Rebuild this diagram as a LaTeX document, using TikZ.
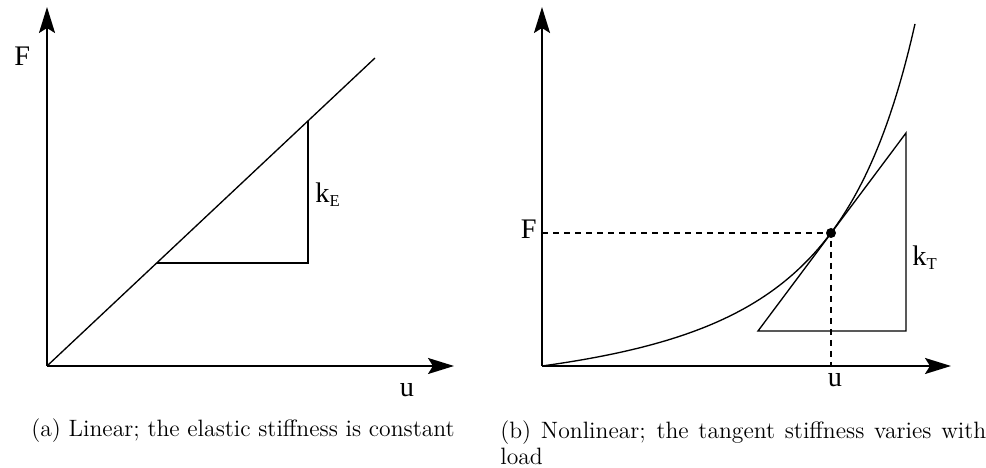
\documentclass[tikz,border=0pt]{standalone}
\usepackage{fontspec}
\usepackage{tikz}
\usetikzlibrary{arrows.meta}
\newfontfamily\labelfont{Liberation Serif}

\begin{document}
\begin{tikzpicture}[x=0.6pt,y=-0.6pt,
  axis/.style={line width=1.2pt,-{Stealth[length=15.6pt,width=9.6pt,inset=3pt]}},
  curve/.style={line width=0.8pt},
  guide/.style={line width=0.8pt,dash pattern=on 3.6pt off 3pt},
  lbl/.style={font=\labelfont\fontsize{17}{20}\selectfont,inner sep=0pt},
  captext/.style={font=\fontsize{14.2}{15.8}\selectfont,inner sep=0pt}]
\useasboundingbox (0,0) rectangle (986,468);

% (a) linear
\coordinate (O1) at (47,366);
\coordinate (Y1) at (47,7);
\coordinate (X1) at (454,366);
\coordinate (L1) at (375,58);
\coordinate (A1) at (157,263);
\coordinate (B1) at (308,263);
\coordinate (C1) at (308,121);
\draw[axis] (O1) -- (Y1);
\draw[axis] (O1) -- (X1);
\draw[curve] (O1) -- (L1);
\draw[curve] (A1) -- (B1) -- (C1);
\node[lbl,anchor=base west] (F1) at (14,66) {F};
\node[lbl,anchor=base] (U1) at (407,397) {u};
\node[lbl,anchor=base west] (K1) at (315,203) {k\raisebox{-2pt}{\fontsize{10}{10}\selectfont E}};

% (b) nonlinear
\coordinate (O2) at (542,366);
\coordinate (Y2) at (542,7);
\coordinate (X2) at (951,366);
\coordinate (P) at (831,233);
\coordinate (PF) at (542,233);
\coordinate (PU) at (831,366);
\coordinate (A2) at (758,331);
\coordinate (B2) at (906,331);
\coordinate (C2) at (906,133);
\draw[axis] (O2) -- (Y2);
\draw[axis] (O2) -- (X2);
\draw[curve] plot[domain=0:373,samples=120] ({542+\x},{366-37.5*(1/((1-\x/544)^2)-1)});
\draw[curve] (A2) -- (B2) -- (C2) -- cycle;
\draw[guide] (PF) -- (P) -- (PU);
\fill (P) circle (5);
\node[lbl,anchor=base east] (F2) at (537,239) {F};
\node[lbl,anchor=base] (U2) at (835,387) {u};
\node[lbl,anchor=base west] (K2) at (912,266) {k\raisebox{-2pt}{\fontsize{10}{10}\selectfont T}};

% captions
\node[captext,anchor=base] (capa) at (243,437) {(a) Linear; the elastic stiffness is constant};
\node[captext,anchor=north west,text width=291.6pt,align=justify] (capb) at (500,420)
  {(b) Nonlinear; the tangent stiffness varies with load};
\end{tikzpicture}
\end{document}
